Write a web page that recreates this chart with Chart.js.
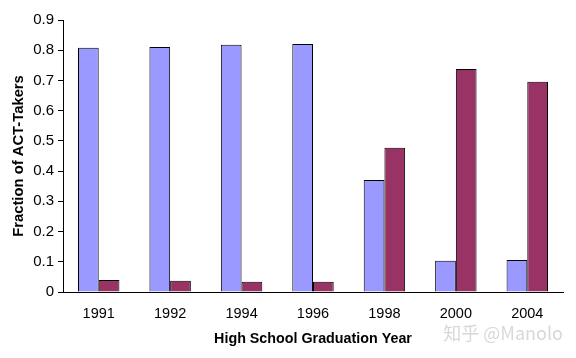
<!DOCTYPE html>
<html>
<head>
<meta charset="utf-8">
<script src="https://cdn.jsdelivr.net/npm/chart.js@4"></script>
<style>
  html, body { margin: 0; padding: 0; background: #fff; }
  #wrap { width: 576px; height: 358px; position: relative; }
</style>
</head>
<body>
<div id="wrap"><canvas id="actChart"></canvas></div>
<script>
// Chart data
const years = ['1991', '1992', '1994', '1996', '1998', '2000', '2004'];
const seriesBlue = [0.808, 0.811, 0.818, 0.821, 0.371, 0.103, 0.106];
const seriesRed = [0.040, 0.037, 0.034, 0.034, 0.477, 0.738, 0.696];
const yTitle = 'Fraction of ACT-Takers';
const xTitle = 'High School Graduation Year';
const watermark = '知乎 @Manolo';

// Faint watermark in the lower right corner
const watermarkPlugin = {
    id: 'watermark',
    afterDraw(chart) {
        const ctx = chart.ctx;
        ctx.save();
        ctx.font = '18px "Noto Sans CJK SC", "Liberation Sans", sans-serif';
        ctx.fillStyle = '#d8d8d8';
        ctx.textAlign = 'right';
        ctx.textBaseline = 'middle';
        ctx.fillText(watermark, 563, 333);
        ctx.restore();
    }
};

new Chart(document.getElementById('actChart'), {
    type: 'bar',
    data: {
        labels: years,
        datasets: [{
            data: seriesBlue,
            backgroundColor: '#9999FF',
            borderColor: '#000000',
            borderWidth: 1,
            categoryPercentage: 0.58,
            barPercentage: 1.0
        }, {
            data: seriesRed,
            backgroundColor: '#993366',
            borderColor: '#000000',
            borderWidth: 1,
            categoryPercentage: 0.58,
            barPercentage: 1.0
        }]
    },
    options: {
        responsive: true,
        maintainAspectRatio: false,
        animation: false,
        layout: {
            padding: { left: 0, right: 13, top: 20, bottom: 0 }
        },
        plugins: {
            legend: { display: false },
            tooltip: { enabled: false }
        },
        scales: {
            x: {
                grid: { display: false },
                border: { display: true, color: '#000', width: 1 },
                ticks: {
                    color: '#000',
                    font: { family: 'Liberation Sans', size: 14.5 },
                    padding: 5,
                    maxRotation: 0
                },
                title: {
                    display: true,
                    text: xTitle,
                    color: '#000',
                    font: { family: 'Liberation Sans', size: 14.3, weight: 'bold' },
                    padding: { top: 4, bottom: 10 }
                },
                afterFit: s => { s.height = 66; }
            },
            y: {
                min: 0,
                max: 0.9,
                grid: {
                    display: true,
                    drawOnChartArea: false,
                    drawTicks: true,
                    tickLength: 5,
                    color: '#000'
                },
                border: { display: true, color: '#000', width: 1 },
                ticks: {
                    stepSize: 0.1,
                    color: '#000',
                    font: { family: 'Liberation Sans', size: 15 },
                    padding: 4,
                    callback: v => Math.round(v * 10) / 10
                },
                title: {
                    display: true,
                    text: yTitle,
                    color: '#000',
                    font: { family: 'Liberation Sans', size: 14.8, weight: 'bold' },
                    padding: { top: 10, bottom: 0 }
                },
                afterFit: s => { s.width = 63; }
            }
        }
    },
    plugins: [watermarkPlugin]
});
</script>
</body>
</html>
